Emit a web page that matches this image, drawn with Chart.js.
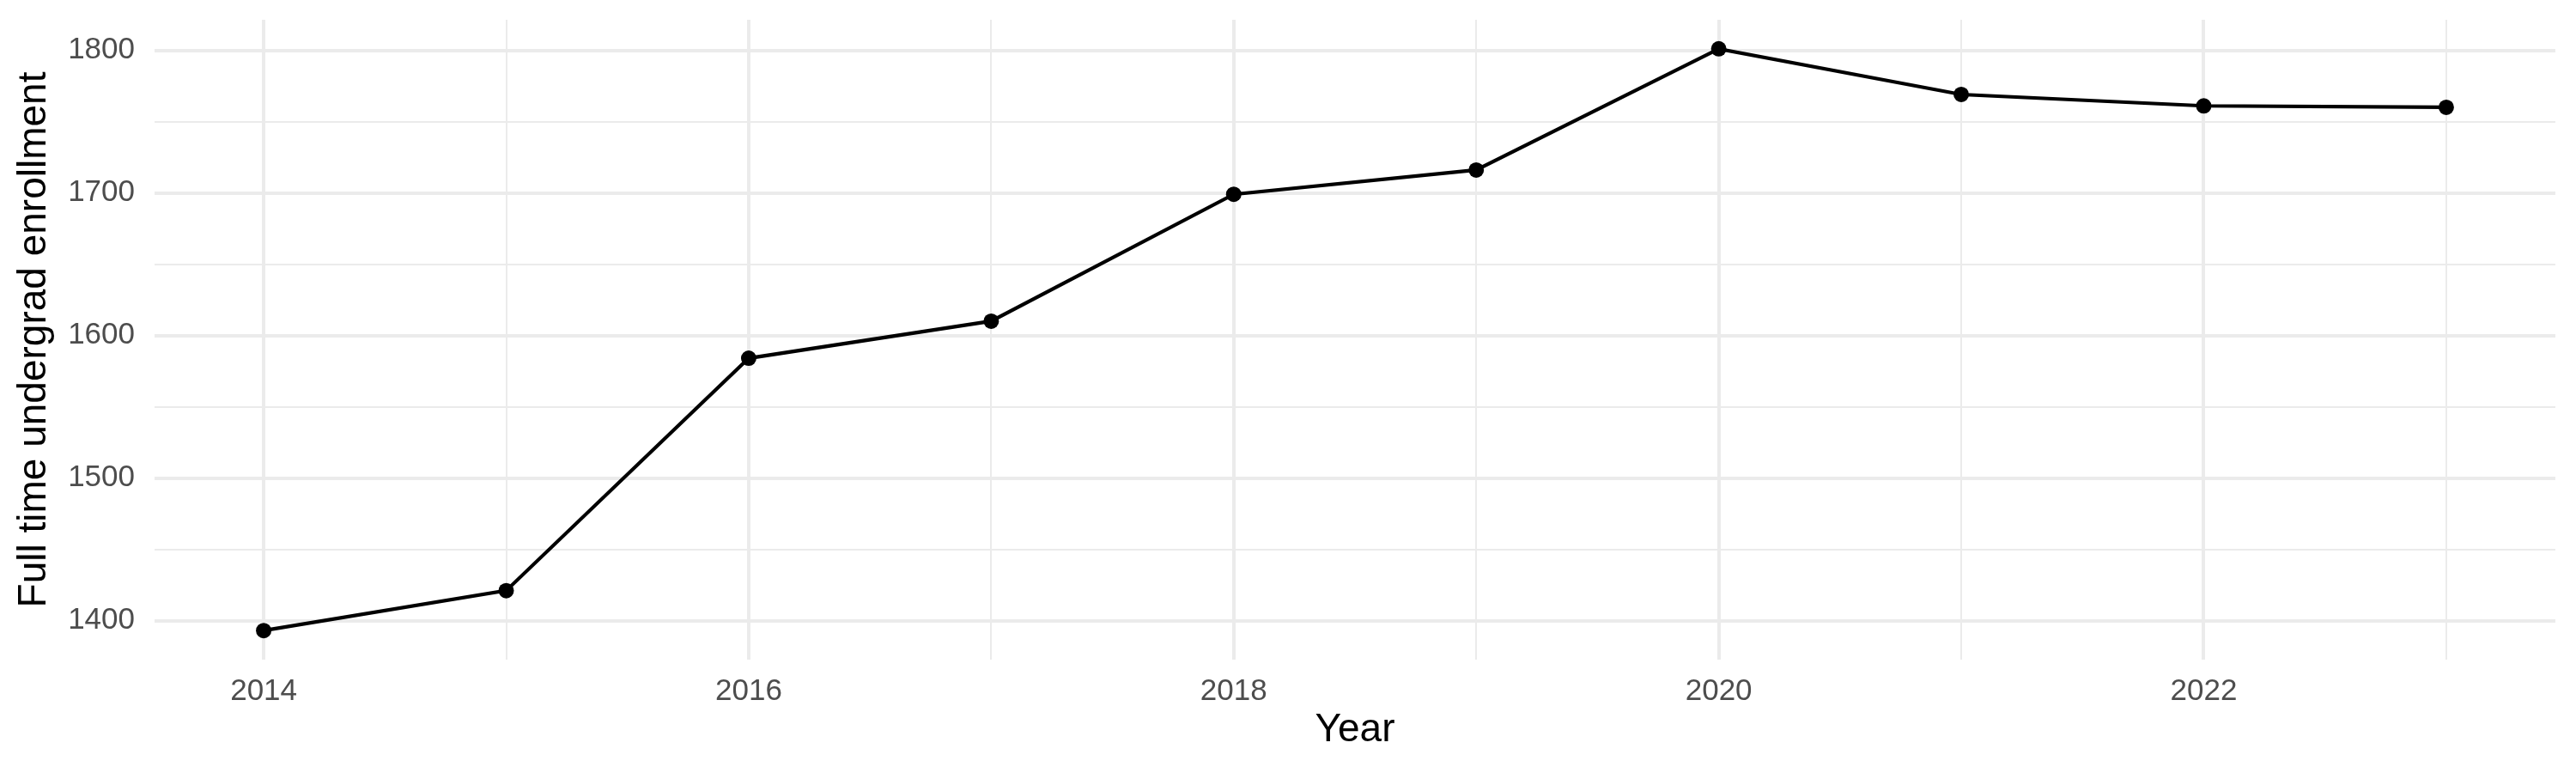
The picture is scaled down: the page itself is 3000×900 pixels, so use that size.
<!DOCTYPE html>
<html>
<head>
<meta charset="utf-8">
<script src="https://cdn.jsdelivr.net/npm/chart.js@4"></script>
<style>
  html, body { margin: 0; padding: 0; background: #ffffff; }
  #wrap { width: 3000px; height: 900px; }
</style>
</head>
<body>
<div id="wrap"><canvas id="enrollChart" width="3000" height="900"></canvas></div>
<script>
// Data
const years = [2014, 2015, 2016, 2017, 2018, 2019, 2020, 2021, 2022, 2023];
const enrollment = [1393, 1421, 1584, 1610, 1699, 1716, 1801, 1769, 1761, 1760];
const xTicks = [2014, 2015, 2016, 2017, 2018, 2019, 2020, 2021, 2022, 2023];
const xLabels = [2014, 2016, 2018, 2020, 2022];
const yTicks = [1400, 1450, 1500, 1550, 1600, 1650, 1700, 1750, 1800];
const yLabels = [1400, 1500, 1600, 1700, 1800];

const gridColor = '#ebebeb';
const tickFont = { family: 'Liberation Sans', size: 35 };
const titleFont = { family: 'Liberation Sans', size: 46 };

// major grid lines are thicker than the minor ones
function gridWidth(labels) {
    return ctx => (ctx.tick && labels.includes(ctx.tick.value)) ? 4 : 2;
}

function createChart() {
    const ctx = document.getElementById('enrollChart').getContext('2d');
    new Chart(ctx, {
        type: 'line',
        data: {
            datasets: [{
                data: years.map((y, i) => ({ x: y, y: enrollment[i] })),
                borderColor: '#000000',
                backgroundColor: '#000000',
                borderWidth: 4.2,
                pointRadius: 9,
                pointHoverRadius: 9,
                pointBorderWidth: 0,
                tension: 0,
                fill: false
            }]
        },
        options: {
            responsive: false,
            animation: false,
            devicePixelRatio: 1,
            layout: { padding: { top: 23, right: 24, left: 0, bottom: 0 } },
            plugins: {
                legend: { display: false },
                tooltip: { enabled: false }
            },
            scales: {
                x: {
                    type: 'linear',
                    min: 2013.55,
                    max: 2023.45,
                    border: { display: false },
                    afterBuildTicks: scale => {
                        scale.ticks = xTicks.map(v => ({ value: v }));
                    },
                    afterFit: scale => {
                        scale.height = 132;
                        scale.paddingLeft = 0;
                        scale.paddingRight = 0;
                    },
                    grid: {
                        color: gridColor,
                        lineWidth: gridWidth(xLabels),
                        drawTicks: false
                    },
                    ticks: {
                        autoSkip: false,
                        maxRotation: 0,
                        padding: 16,
                        color: '#4d4d4d',
                        font: tickFont,
                        callback: v => xLabels.includes(v) ? String(v) : ''
                    },
                    title: {
                        display: true,
                        text: 'Year',
                        color: '#000000',
                        font: titleFont,
                        padding: { top: 0, bottom: 22 }
                    }
                },
                y: {
                    type: 'linear',
                    min: 1372.6,
                    max: 1821.4,
                    border: { display: false },
                    afterBuildTicks: scale => {
                        scale.ticks = yTicks.map(v => ({ value: v }));
                    },
                    afterFit: scale => {
                        scale.width = 180;
                        scale.paddingTop = 0;
                        scale.paddingBottom = 0;
                    },
                    grid: {
                        color: gridColor,
                        lineWidth: gridWidth(yLabels),
                        drawTicks: false
                    },
                    ticks: {
                        autoSkip: false,
                        padding: 23,
                        color: '#4d4d4d',
                        font: tickFont,
                        callback: v => yLabels.includes(v) ? String(v) : ''
                    },
                    title: {
                        display: true,
                        text: 'Full time undergrad enrollment',
                        color: '#000000',
                        font: titleFont,
                        padding: { top: 13, bottom: 0 }
                    }
                }
            }
        }
    });
}

window.onload = createChart;
</script>
</body>
</html>
